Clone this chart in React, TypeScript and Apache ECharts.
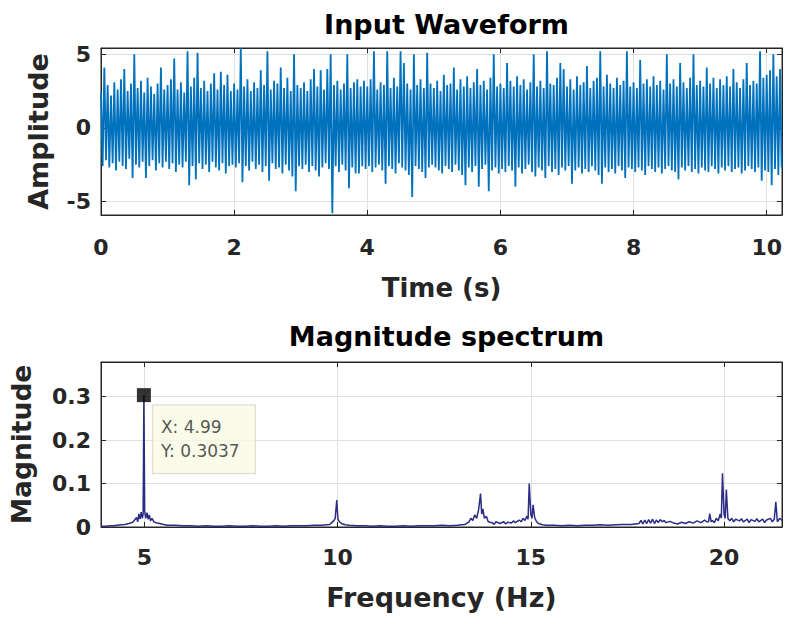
import React, { useEffect, useRef } from "react";
import * as echarts from "echarts";

// ---- Input waveform (time step between high/low pairs) ----
const waveStep = 0.05;
const waveHigh = [
  2.4, 4.1, 2.9, 2.2, 3.1, 2.6, 3.3, 4.0, 2.5, 3.0, 5.0, 2.7, 3.2, 2.4, 3.4, 2.8, 2.3, 3.0, 4.1, 2.6,
  2.9, 3.3, 4.7, 2.6, 3.1, 2.4, 5.2, 2.8, 3.4, 5.1, 2.7, 3.2, 2.5, 3.0, 3.7, 2.6, 3.8, 2.9, 3.6, 2.5,
  3.0, 2.6, 5.4, 2.8, 3.3, 2.5, 3.1, 2.7, 3.9, 2.9, 5.2, 2.6, 3.2, 3.0, 4.1, 2.7, 3.4, 2.5, 5.0, 2.9,
  2.7, 3.1, 2.5, 3.3, 4.0, 2.8, 3.9, 2.6, 4.0, 5.0, 2.9, 3.2, 2.6, 3.0, 5.0, 2.7, 3.1, 3.3, 2.8, 3.2,
  2.8, 3.3, 5.2, 2.6, 3.1, 2.9, 5.2, 2.7, 3.4, 2.8, 5.2, 4.4, 3.0, 2.6, 5.0, 2.9, 3.3, 2.7, 5.1, 3.0,
  2.7, 3.2, 2.5, 3.6, 2.9, 3.0, 4.1, 2.6, 3.3, 2.8, 3.5, 2.7, 3.1, 4.0, 2.9, 3.2, 2.6, 3.4, 5.0, 2.8,
  3.0, 2.7, 4.4, 3.2, 2.8, 3.5, 2.9, 3.3, 2.6, 3.1, 5.0, 2.8, 3.2, 2.7, 5.2, 3.0, 2.9, 3.4, 4.4, 4.0,
  2.8, 3.3, 2.6, 3.5, 2.9, 3.1, 4.2, 2.7, 3.2, 3.4, 5.2, 2.8, 3.6, 3.0, 2.7, 3.4, 2.9, 3.2, 5.2, 2.8,
  3.1, 2.7, 4.6, 3.0, 3.3, 2.8, 3.5, 2.9, 3.2, 2.6, 5.0, 3.0, 3.3, 2.8, 4.4, 3.1, 2.7, 3.4, 5.0, 2.9,
  3.2, 2.8, 4.1, 3.0, 3.4, 2.7, 3.3, 2.9, 3.5, 2.8, 4.0, 3.1, 2.7, 3.3, 4.4, 2.9, 3.2, 3.0, 5.2, 3.4,
  3.6, 3.9, 5.0, 3.5, 4.0,
];
const waveLow = [
  -2.6, -2.2, -2.7, -2.4, -2.9, -2.3, -2.6, -2.8, -2.1, -3.4, -2.5, -2.7, -2.3, -3.4, -2.6, -2.2, -2.9, -2.4, -2.7, -2.3,
  -2.8, -2.4, -3.0, -2.5, -2.7, -2.3, -3.9, -2.6, -3.5, -2.4, -2.8, -2.5, -3.0, -2.3, -2.7, -2.9, -2.4, -3.1, -2.6, -2.5,
  -2.7, -2.4, -3.7, -2.6, -2.9, -2.3, -2.8, -2.5, -3.0, -2.6, -3.6, -2.4, -2.8, -2.7, -3.1, -2.5, -2.9, -3.3, -4.3, -2.6,
  -2.8, -2.5, -3.0, -2.6, -2.9, -3.3, -2.7, -2.4, -2.8, -5.8, -2.6, -3.0, -2.5, -2.9, -4.1, -2.7, -3.1, -3.1, -2.6, -2.8,
  -2.6, -3.0, -2.7, -2.5, -2.9, -3.8, -2.6, -2.8, -3.1, -2.4, -2.7, -2.9, -3.2, -4.7, -2.6, -2.8, -3.0, -3.4, -2.7, -2.5,
  -2.7, -2.9, -3.1, -2.6, -2.8, -3.0, -2.5, -2.9, -3.2, -3.9, -2.7, -3.0, -2.6, -4.0, -2.8, -2.5, -4.3, -2.9, -2.7, -3.1,
  -2.8, -3.0, -2.6, -2.9, -4.0, -2.7, -3.1, -2.8, -2.5, -3.0, -3.3, -2.7, -2.9, -3.4, -2.6, -3.0, -2.8, -3.2, -2.7, -2.9,
  -2.6, -3.8, -2.9, -2.7, -3.1, -2.8, -3.0, -2.6, -2.9, -3.2, -3.8, -2.7, -3.0, -2.8, -3.1, -2.6, -2.9, -3.4, -2.7, -2.8,
  -3.0, -2.7, -2.9, -3.2, -2.6, -2.8, -3.0, -2.7, -3.1, -2.8, -2.6, -2.9, -3.0, -3.5, -2.7, -2.9, -2.6, -3.0, -2.8, -3.1,
  -2.7, -2.9, -3.0, -2.6, -2.8, -3.1, -2.7, -2.9, -2.6, -3.0, -2.8, -2.7, -3.1, -2.9, -2.6, -2.8, -3.0, -2.7, -3.6, -2.9,
  -3.0, -3.9, -2.8, -3.2, -2.7,
];

// ---- Magnitude spectrum ----
const specFreq = [
  3.88, 4.0, 4.1, 4.2, 4.3, 4.4, 4.5, 4.6, 4.7,
  4.75, 4.8, 4.83, 4.86, 4.89, 4.92, 4.95, 4.97, 4.99, 5.01, 5.04, 5.07, 5.1, 5.13, 5.16, 5.2, 5.25, 5.3, 5.4, 5.5, 5.6,
  5.8, 6.0, 6.2, 6.4, 6.6, 6.8, 7.0, 7.2, 7.4, 7.6, 7.8, 8.0, 8.2, 8.4, 8.6, 8.8, 9.0, 9.2, 9.4, 9.6,
  9.7, 9.8, 9.85, 9.9, 9.94, 9.98, 10.01, 10.05, 10.1, 10.2, 10.3,
  10.5, 10.7, 10.9, 11.1, 11.3, 11.5, 11.7, 11.9, 12.1, 12.3, 12.5, 12.7, 12.9, 13.1, 13.2,
  13.3, 13.4, 13.45, 13.5, 13.55, 13.6, 13.65, 13.7, 13.73, 13.76, 13.8, 13.85, 13.9, 14.0, 14.05, 14.1, 14.2, 14.3, 14.35, 14.4,
  14.5, 14.55, 14.6, 14.7, 14.75, 14.8, 14.85, 14.9, 14.93, 14.96, 15.0, 15.03, 15.06, 15.1, 15.15, 15.2, 15.3, 15.4,
  15.6, 15.8, 16.0, 16.2, 16.4, 16.6, 16.8, 17.0, 17.2, 17.4, 17.6, 17.8,
  17.85, 17.9, 17.95, 18.0, 18.05, 18.1, 18.15, 18.2, 18.25, 18.3, 18.35, 18.4, 18.45, 18.5, 18.6, 18.7, 18.8, 18.9, 19.0, 19.1,
  19.2, 19.3, 19.4, 19.5, 19.55,
  19.6, 19.63, 19.67, 19.7, 19.75, 19.8, 19.85, 19.9, 19.93, 19.96, 20.0, 20.03, 20.06, 20.1, 20.15, 20.2, 20.25, 20.3, 20.4, 20.45,
  20.5, 20.6, 20.65, 20.7, 20.8, 20.85, 20.9, 21.0, 21.05, 21.1, 21.2, 21.25, 21.3, 21.34, 21.38, 21.44, 21.5,
];
const specMag = [
  0.002, 0.002, 0.003, 0.003, 0.004, 0.005, 0.006, 0.008, 0.011,
  0.016, 0.022, 0.012, 0.03, 0.018, 0.034, 0.02, 0.03, 0.3037, 0.036, 0.02, 0.033, 0.018, 0.028, 0.014, 0.02, 0.012, 0.01, 0.008, 0.006, 0.004,
  0.004, 0.003, 0.003, 0.002, 0.003, 0.002, 0.002, 0.003, 0.002, 0.002, 0.003, 0.002, 0.002, 0.003, 0.002, 0.003, 0.003, 0.003, 0.004, 0.004,
  0.005, 0.006, 0.01, 0.014, 0.02, 0.062, 0.018, 0.012, 0.008, 0.005, 0.004,
  0.003, 0.003, 0.002, 0.003, 0.002, 0.002, 0.003, 0.002, 0.003, 0.003, 0.003, 0.004, 0.003, 0.004, 0.005,
  0.006, 0.012, 0.02, 0.015, 0.028, 0.02, 0.04, 0.077, 0.03, 0.042, 0.02, 0.025, 0.012, 0.01, 0.006, 0.012, 0.008, 0.012, 0.007, 0.011,
  0.009, 0.014, 0.01, 0.016, 0.012, 0.02, 0.015, 0.025, 0.018, 0.1, 0.03, 0.02, 0.051, 0.022, 0.012, 0.008, 0.005, 0.004,
  0.004, 0.003, 0.004, 0.003, 0.004, 0.004, 0.005, 0.004, 0.005, 0.006, 0.006, 0.008,
  0.015, 0.007, 0.016, 0.008, 0.017, 0.009, 0.018, 0.008, 0.016, 0.01, 0.017, 0.012, 0.015, 0.01, 0.013, 0.009, 0.007, 0.011, 0.008, 0.012,
  0.009, 0.014, 0.01, 0.016, 0.012,
  0.012, 0.031, 0.012, 0.015, 0.01, 0.02, 0.014, 0.03, 0.02, 0.124, 0.03, 0.02, 0.086, 0.02, 0.014, 0.02, 0.012, 0.018, 0.014, 0.019,
  0.012, 0.018, 0.01, 0.017, 0.013, 0.019, 0.012, 0.018, 0.01, 0.016, 0.02, 0.012, 0.018, 0.058, 0.012, 0.02, 0.015,
];

// ---- Data tip ----
const tipX = 4.99;
const tipY = 0.3037;

const titleTexts = ["Input Waveform", "Magnitude spectrum"];
const axisNames = ["Time (s)", "Amplitude", "Frequency (Hz)", "Magnitude"];

const FONT = "'DejaVu Sans', Verdana, 'Liberation Sans', sans-serif";
const AXIS_COLOR = "#262626";
const GRID_COLOR = "#e0e0e0";

function mainAxis(extra: any, labelExtra: any = {}) {
  return {
    type: "value",
    axisLine: { show: true, onZero: false, lineStyle: { color: AXIS_COLOR, width: 1 } },
    axisTick: { show: true, inside: true, length: 5, lineStyle: { color: AXIS_COLOR } },
    splitLine: { show: true, lineStyle: { color: GRID_COLOR, width: 1 } },
    axisLabel: {
      show: true,
      fontFamily: FONT,
      fontWeight: "bold",
      fontSize: 22,
      color: AXIS_COLOR,
      showMinLabel: false,
      showMaxLabel: false,
      ...labelExtra,
    },
    nameLocation: "middle",
    nameTextStyle: { fontFamily: FONT, fontWeight: "bold", fontSize: 26, color: AXIS_COLOR },
    ...extra,
  };
}

function mirrorAxis(extra: any) {
  return {
    type: "value",
    axisLine: { show: true, onZero: false, lineStyle: { color: AXIS_COLOR, width: 1 } },
    axisTick: { show: true, inside: true, length: 5, lineStyle: { color: AXIS_COLOR } },
    splitLine: { show: false },
    axisLabel: { show: false },
    ...extra,
  };
}

export default function App() {
  const ref = useRef<HTMLDivElement>(null);

  useEffect(() => {
    if (!ref.current) return;
    const chart = echarts.init(ref.current, null, { renderer: "svg" });

    const wave: number[][] = [];
    waveHigh.forEach((h, i) => {
      wave.push([+(i * waveStep).toFixed(4), h]);
      if (i < waveLow.length) wave.push([+(i * waveStep + waveStep / 2).toFixed(4), waveLow[i]]);
    });
    const spec = specFreq.map((f, i) => [f, specMag[i]]);

    const xTop = { min: 0, max: 10.23, interval: 2 };
    const yTop = { min: -5.92, max: 5.42, splitNumber: 2 };
    const xBot = { min: 3.88, max: 21.5, splitNumber: 3 };
    const yBot = { min: 0, max: 0.38, interval: 0.1 };

    const titleStyle = { fontFamily: FONT, fontWeight: "bold", fontSize: 27, color: "#000" };

    chart.setOption({
      animation: false,
      backgroundColor: "#ffffff",
      title: [
        { text: titleTexts[0], left: 441.5, top: 6, textAlign: "center", textStyle: titleStyle },
        { text: titleTexts[1], left: 441.5, top: 318, textAlign: "center", textStyle: titleStyle },
      ],
      grid: [
        { left: 101, top: 48, width: 681, height: 167, show: true, borderColor: AXIS_COLOR, borderWidth: 1, backgroundColor: "#fff" },
        { left: 101, top: 362, width: 681, height: 165, show: true, borderColor: AXIS_COLOR, borderWidth: 1, backgroundColor: "#fff" },
      ],
      xAxis: [
        mainAxis({ gridIndex: 0, position: "bottom", ...xTop, name: axisNames[0], nameGap: 60 },
          { margin: 21, showMinLabel: true }),
        mirrorAxis({ gridIndex: 0, position: "top", ...xTop }),
        mainAxis({ gridIndex: 1, position: "bottom", ...xBot, name: axisNames[2], nameGap: 57,
          nameTextStyle: { fontFamily: FONT, fontWeight: "bold", fontSize: 27, color: AXIS_COLOR } },
          { margin: 19 }),
        mirrorAxis({ gridIndex: 1, position: "top", ...xBot }),
      ],
      yAxis: [
        mainAxis({ gridIndex: 0, position: "left", ...yTop, name: axisNames[1], nameGap: 49,
          nameTextStyle: { fontFamily: FONT, fontWeight: "bold", fontSize: 27, color: AXIS_COLOR } },
          { margin: 10 }),
        mirrorAxis({ gridIndex: 0, position: "right", ...yTop }),
        mainAxis({ gridIndex: 1, position: "left", ...yBot, name: axisNames[3], nameGap: 66,
          nameTextStyle: { fontFamily: FONT, fontWeight: "bold", fontSize: 26.5, color: AXIS_COLOR } },
          { margin: 10, showMinLabel: true }),
        mirrorAxis({ gridIndex: 1, position: "right", ...yBot }),
      ],
      series: [
        {
          type: "line",
          xAxisIndex: 0,
          yAxisIndex: 0,
          data: wave,
          showSymbol: false,
          symbol: "none",
          silent: true,
          lineStyle: { color: "#0072BD", width: 1.8 },
        },
        {
          type: "line",
          xAxisIndex: 2,
          yAxisIndex: 2,
          data: spec,
          showSymbol: false,
          symbol: "none",
          silent: true,
          lineStyle: { color: "#2c2c86", width: 1.5 },
        },
        {
          type: "scatter",
          xAxisIndex: 2,
          yAxisIndex: 2,
          data: [[tipX, tipY]],
          symbol: "rect",
          symbolSize: 14,
          silent: true,
          itemStyle: { color: "#000" },
          label: {
            show: true,
            position: [16, 17],
            align: "left",
            verticalAlign: "top",
            formatter: () => `X: ${tipX}\nY: ${tipY}`,
            fontFamily: FONT,
            fontSize: 17,
            lineHeight: 24,
            color: "#2a2a2a",
            backgroundColor: "#fafae4",
            borderColor: "#d4d4c8",
            borderWidth: 1,
            padding: [10, 8, 10, 8],
            width: 86,
          },
          z: 5,
        },
      ],
    });

    return () => chart.dispose();
  }, []);

  return (
    <div
      ref={ref}
      style={{ position: "fixed", left: 0, top: 0, width: 788, height: 625, background: "#fff" }}
    />
  );
}
